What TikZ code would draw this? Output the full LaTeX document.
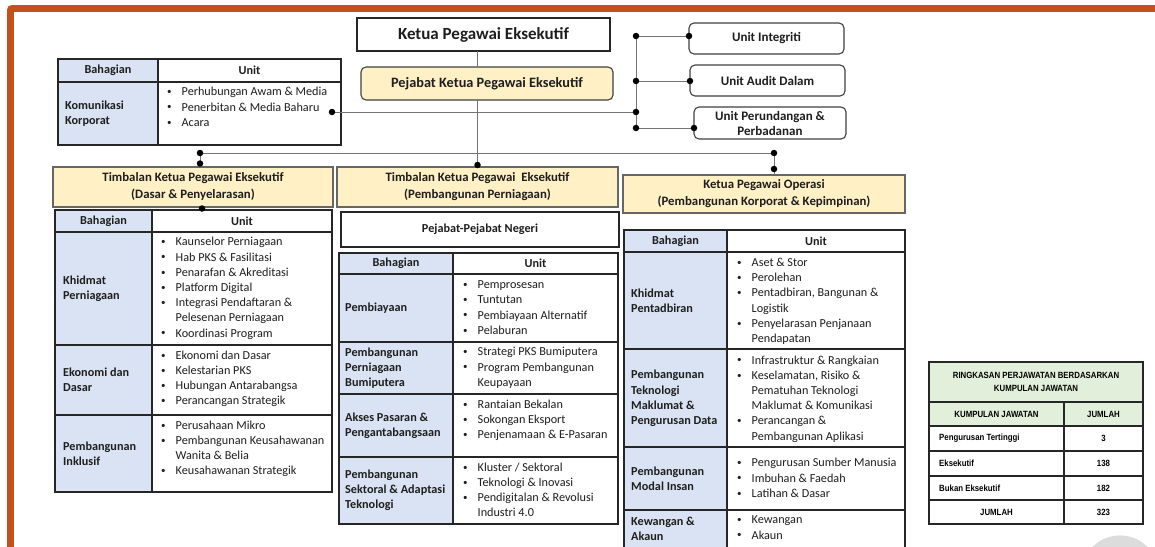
\documentclass[tikz,border=0pt]{standalone}
\usepackage{fontspec}
\setmainfont{Carlito}
\newfontfamily\narrowfont[FakeStretch=0.87]{Liberation Sans}
\usetikzlibrary{calc}

\definecolor{frameorange}{HTML}{C4511B}
\definecolor{boxyellow}{HTML}{FFF0C6}
\definecolor{cellblue}{HTML}{DAE3F3}
\definecolor{cellgreen}{HTML}{E2EFDA}
\definecolor{edgegray}{HTML}{404040}
\definecolor{inkgray}{HTML}{1E1E1E}
\definecolor{ghost}{HTML}{DCDCDC}

\newcommand\rect[6]{\node[#6, anchor=north west, inner sep=0pt, outer sep=0pt,
  minimum width={(#4-#2)*1pt}, minimum height={(#5-#3)*1pt}] (#1) at (#2,#3) {};}
\newcommand\tbox[7]{\node[#6, anchor=north west, inner sep=1pt, outer sep=0pt,
  minimum width={(#4-#2)*1pt}, minimum height={(#5-#3)*1pt}] (#1) at (#2,#3) {#7};}
\newcommand\bul{\raisebox{1.2pt}{\fontsize{9}{9}\selectfont\textbullet}}
\newcommand\blist[1]{\begin{tabular}{@{}l@{\hspace{10pt}}l@{}}#1\end{tabular}}

\tikzset{
  topbox/.style={draw=black!85, line width=1.1pt, fill=white, text=inkgray,
    font=\fontsize{17}{20}\selectfont\bfseries},
  softbox/.style={draw=edgegray, line width=1.1pt, rounded corners=5pt, fill=boxyellow,
    text=inkgray, font=\fontsize{14.3}{17}\selectfont\bfseries},
  unitbox/.style={draw=edgegray, line width=1.1pt, rounded corners=5pt, fill=white,
    align=center, text=inkgray, font=\fontsize{13}{15}\selectfont\bfseries},
  headbox/.style={draw=edgegray!80, line width=1.4pt, fill=boxyellow, align=center,
    text=inkgray, font=\fontsize{12.8}{17}\selectfont\bfseries},
  plainbox/.style={draw=black!85, line width=1.1pt, fill=white, text=inkgray,
    font=\fontsize{12.2}{15}\selectfont\bfseries},
  cellb/.style={draw=black!85, line width=1.1pt, fill=cellblue},
  cellw/.style={draw=black!85, line width=1.1pt, fill=white},
  cellg/.style={draw=black!85, line width=1.1pt, fill=cellgreen},
  htext/.style={inner sep=0pt, text=inkgray, font=\fontsize{12.2}{15.2}\selectfont\bfseries},
  btext/.style={anchor=west, inner sep=0pt, align=left, text=inkgray,
    font=\fontsize{12.2}{15.2}\selectfont\bfseries},
  ltext/.style={anchor=west, inner sep=0pt, text=inkgray,
    font=\fontsize{12.2}{15.2}\selectfont},
  stext/.style={inner sep=0pt, align=center, text=black,
    font=\fontsize{9}{12.3}\selectfont\narrowfont\bfseries},
  link/.style={draw=black!55, line width=1pt},
  dot/.style={circle, fill=black, draw=none, inner sep=0pt, minimum size=6.5pt},
}

\begin{document}
\begin{tikzpicture}[x=1pt,y=-1pt]
\useasboundingbox (0,0) rectangle (1155,546);
\clip (0,0) rectangle (1155,546);

% frame
\draw[frameorange, line width=6.8pt, rounded corners=2pt] (10.4,560) -- (10.4,8.4) -- (1170,8.4);
\fill[ghost] (1120,574) circle (38.6);

% top boxes
\tbox{KPE}{357}{18}{610}{51}{topbox}{Ketua Pegawai Eksekutif}
\tbox{PKPE}{361}{67}{613}{100}{softbox}{Pejabat Ketua Pegawai Eksekutif}
\tbox{UI}{689}{23}{844}{54}{unitbox}{Unit Integriti}
\tbox{UA}{690}{65}{845}{96}{unitbox}{Unit Audit Dalam}
\tbox{UP}{694}{107}{846}{139}{unitbox}{Unit Perundangan \&\\Perbadanan}

% Komunikasi table
\rect{K-hb}{58}{59}{158}{82}{cellb}
\rect{K-hu}{158}{59}{341}{82}{cellw}
\rect{K-b1}{58}{82}{158}{145}{cellb}
\rect{K-u1}{158}{82}{341}{145}{cellw}
\node[htext] (K-th1) at (K-hb) {Bahagian};
\node[htext] (K-th2) at (K-hu) {Unit};
\node[btext] (K-t1) at (65,113.5) {Komunikasi\\Korporat};
\node[ltext] (K-l1) at (167,108) {\blist{\bul & Perhubungan Awam \& Media\\ \bul & Penerbitan \& Media Baharu\\ \bul & Acara\\}};
\coordinate (kdot) at (332,112);

% Timbalan / Ketua boxes
\tbox{LT}{53}{167}{333}{207}{headbox}{Timbalan Ketua Pegawai Eksekutif\\(Dasar \& Penyelarasan)}
\tbox{MT}{337}{167}{618}{207}{headbox}{Timbalan Ketua Pegawai\ \ Eksekutif\\(Pembangunan Perniagaan)}
\tbox{RT}{623}{175}{905}{213}{headbox}{Ketua Pegawai Operasi\\(Pembangunan Korporat \& Kepimpinan)}
\tbox{PN}{341}{212}{619}{247}{plainbox}{Pejabat-Pejabat Negeri}

% Left table
\rect{L-hb}{55}{210}{152}{232}{cellb}
\rect{L-hu}{152}{210}{332}{232}{cellw}
\rect{L-b1}{55}{232}{152}{345}{cellb}
\rect{L-u1}{152}{232}{332}{345}{cellw}
\rect{L-b2}{55}{345}{152}{415}{cellb}
\rect{L-u2}{152}{345}{332}{415}{cellw}
\rect{L-b3}{55}{415}{152}{492}{cellb}
\rect{L-u3}{152}{415}{332}{492}{cellw}
\node[htext] (L-th1) at (L-hb) {Bahagian};
\node[htext] (L-th2) at (L-hu) {Unit};
\node[btext] (L-t1) at (63,288.5) {Khidmat\\Perniagaan};
\node[btext] (L-t2) at (63,380) {Ekonomi dan\\Dasar};
\node[btext] (L-t3) at (63,453.5) {Pembangunan\\Inklusif};
\node[ltext] (L-l1) at (161,288.5) {\blist{\bul & Kaunselor Perniagaan\\ \bul & Hab PKS \& Fasilitasi\\ \bul & Penarafan \& Akreditasi\\ \bul & Platform Digital\\ \bul & Integrasi Pendaftaran \&\\ & Pelesenan Perniagaan\\ \bul & Koordinasi Program\\}};
\node[ltext] (L-l2) at (161,379) {\blist{\bul & Ekonomi dan Dasar\\ \bul & Kelestarian PKS\\ \bul & Hubungan Antarabangsa\\ \bul & Perancangan Strategik\\}};
\node[ltext] (L-l3) at (161,449) {\blist{\bul & Perusahaan Mikro\\ \bul & Pembangunan Keusahawanan\\ & Wanita \& Belia\\ \bul & Keusahawanan Strategik\\}};

% Middle table
\rect{M-hb}{339}{253}{453}{274}{cellb}
\rect{M-hu}{453}{253}{618}{274}{cellw}
\rect{M-b1}{339}{274}{453}{342}{cellb}
\rect{M-u1}{453}{274}{618}{342}{cellw}
\rect{M-b2}{339}{342}{453}{394}{cellb}
\rect{M-u2}{453}{342}{618}{394}{cellw}
\rect{M-b3}{339}{394}{453}{457}{cellb}
\rect{M-u3}{453}{394}{618}{457}{cellw}
\rect{M-b4}{339}{457}{453}{524}{cellb}
\rect{M-u4}{453}{457}{618}{524}{cellw}
\node[htext] (M-th1) at (M-hb) {Bahagian};
\node[htext] (M-th2) at (M-hu) {Unit};
\node[btext] (M-t1) at (345,308) {Pembiayaan};
\node[btext] (M-t2) at (345,368) {Pembangunan\\Perniagaan\\Bumiputera};
\node[btext] (M-t3) at (345,425.5) {Akses Pasaran \&\\Pengantabangsaan};
\node[btext] (M-t4) at (345,490.5) {Pembangunan\\Sektoral \& Adaptasi\\Teknologi};
\node[ltext] (M-l1) at (463,308.5) {\blist{\bul & Pemprosesan\\ \bul & Tuntutan\\ \bul & Pembiayaan Alternatif\\ \bul & Pelaburan\\}};
\node[ltext] (M-l2) at (463,368) {\blist{\bul & Strategi PKS Bumiputera\\ \bul & Program Pembangunan\\ & Keupayaan\\}};
\node[ltext] (M-l3) at (463,420.5) {\blist{\bul & Rantaian Bekalan\\ \bul & Sokongan Eksport\\ \bul & Penjenamaan \& E-Pasaran\\}};
\node[ltext] (M-l4) at (463,491) {\blist{\bul & Kluster / Sektoral\\ \bul & Teknologi \& Inovasi\\ \bul & Pendigitalan \& Revolusi\\ & Industri 4.0\\}};

% Right table
\rect{R-hb}{624}{230}{727}{252}{cellb}
\rect{R-hu}{727}{230}{905}{252}{cellw}
\rect{R-b1}{624}{252}{727}{349}{cellb}
\rect{R-u1}{727}{252}{905}{349}{cellw}
\rect{R-b2}{624}{349}{727}{447}{cellb}
\rect{R-u2}{727}{349}{905}{447}{cellw}
\rect{R-b3}{624}{447}{727}{510}{cellb}
\rect{R-u3}{727}{447}{905}{510}{cellw}
\rect{R-b4}{624}{510}{727}{552}{cellb}
\rect{R-u4}{727}{510}{905}{552}{cellw}
\node[htext] (R-th1) at (R-hb) {Bahagian};
\node[htext] (R-th2) at (R-hu) {Unit};
\node[btext] (R-t1) at (631,300.5) {Khidmat\\Pentadbiran};
\node[btext] (R-t2) at (631,398.5) {Pembangunan\\Teknologi\\Maklumat \&\\Pengurusan Data};
\node[btext] (R-t3) at (631,478.5) {Pembangunan\\Modal Insan};
\node[btext] (R-t4) at (631,528.5) {Kewangan \&\\Akaun};
\node[ltext] (R-l1) at (737,301.5) {\blist{\bul & Aset \& Stor\\ \bul & Perolehan\\ \bul & Pentadbiran, Bangunan \&\\ & Logistik\\ \bul & Penyelarasan Penjanaan\\ & Pendapatan\\}};
\node[ltext] (R-l2) at (737,399) {\blist{\bul & Infrastruktur \& Rangkaian\\ \bul & Keselamatan, Risiko \&\\ & Pematuhan Teknologi\\ & Maklumat \& Komunikasi\\ \bul & Perancangan \&\\ & Pembangunan Aplikasi\\}};
\node[ltext] (R-l3) at (737,479) {\blist{\bul & Pengurusan Sumber Manusia\\ \bul & Imbuhan \& Faedah\\ \bul & Latihan \& Dasar\\}};
\node[ltext] (R-l4) at (737,528.5) {\blist{\bul & Kewangan\\ \bul & Akaun\\}};

% Summary table
\rect{S-title}{929}{362}{1143}{402}{cellg}
\rect{S-h1}{929}{402}{1064}{426}{cellg}
\rect{S-h2}{1064}{402}{1143}{426}{cellg}
\rect{S-a1}{929}{426}{1064}{451}{cellw}
\rect{S-a2}{1064}{426}{1143}{451}{cellw}
\rect{S-b1}{929}{451}{1064}{476}{cellw}
\rect{S-b2}{1064}{451}{1143}{476}{cellw}
\rect{S-c1}{929}{476}{1064}{500}{cellw}
\rect{S-c2}{1064}{476}{1143}{500}{cellw}
\rect{S-d1}{929}{500}{1064}{524}{cellw}
\rect{S-d2}{1064}{500}{1143}{524}{cellw}
\node[stext] (S-tt) at (S-title) {RINGKASAN PERJAWATAN BERDASARKAN\\KUMPULAN JAWATAN};
\node[stext] (S-th1) at (S-h1) {KUMPULAN JAWATAN};
\node[stext] (S-th2) at (S-h2) {JUMLAH};
\node[stext, anchor=west] (S-r1) at (939,438.5) {Pengurusan Tertinggi};
\node[stext] (S-v1) at (S-a2) {3};
\node[stext, anchor=west] (S-r2) at (939,463.5) {Eksekutif};
\node[stext] (S-v2) at (S-b2) {138};
\node[stext, anchor=west] (S-r3) at (939,488) {Bukan Eksekutif};
\node[stext] (S-v3) at (S-c2) {182};
\node[stext] (S-r4) at (S-d1) {JUMLAH};
\node[stext] (S-v4) at (S-d2) {323};

% connectors
\coordinate (busL) at (200,153);
\coordinate (busR) at (774,153);
\coordinate (rb1) at (636,36);
\coordinate (rb2) at (636,81);
\coordinate (rb3) at (636,112);
\coordinate (rb4) at (636,128);
\draw[link] (KPE.south -| MT.north) -- (PKPE.north -| MT.north);
\draw[link] (PKPE.south -| MT.north) -- (MT.north);
\draw[link] (busL) -- (busR);
\draw[link] (busL) -- (LT.north -| busL);
\draw[link] (busR) -- (RT.north -| busR);
\draw[link] (rb1) -- (rb4);
\draw[link] (rb1) -- (UI.west |- rb1);
\draw[link] (rb2) -- (UA.west |- rb2);
\draw[link] (rb4) -- (UP.west |- rb4);
\draw[link] (kdot) -- (rb3);

\node[dot] (d-mt) at ([yshift=2pt]MT.north) {};
\node[dot] (d-bl1) at (busL) {};
\node[dot] (d-bl2) at (200,163.5) {};
\node[dot] (d-br1) at (busR) {};
\node[dot] (d-br2) at (774,169) {};
\node[dot] (d-lt) at (202,208.5) {};
\node[dot] (d-k) at (kdot) {};
\node[dot] (d-r1) at (rb1) {};
\node[dot] (d-r2) at (rb2) {};
\node[dot] (d-r3) at (rb3) {};
\node[dot] (d-r4) at (rb4) {};
\node[dot] (d-ui) at (UI.west |- rb1) {};
\node[dot] (d-ua) at (UA.west |- rb2) {};
\node[dot] (d-up) at (UP.west |- rb4) {};
\end{tikzpicture}
\end{document}
